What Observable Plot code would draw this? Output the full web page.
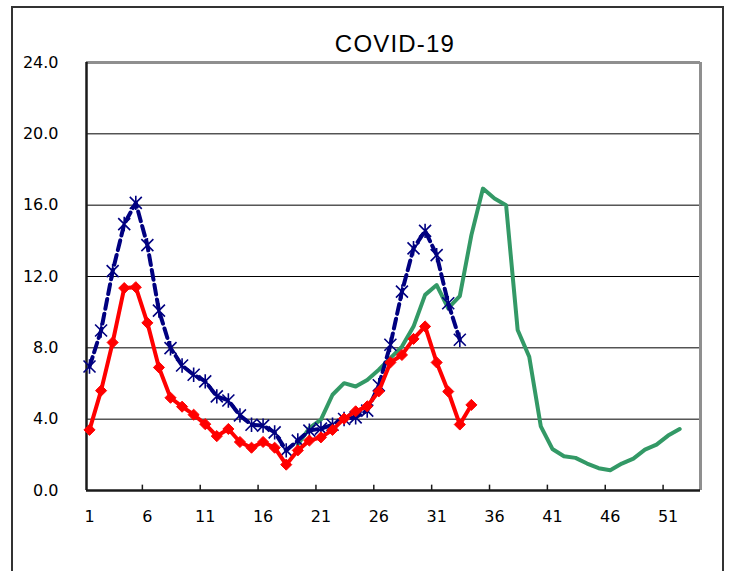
<!DOCTYPE html>
<html><head><meta charset="utf-8">
<script src="https://cdn.jsdelivr.net/npm/d3@7"></script>
<script src="https://cdn.jsdelivr.net/npm/@observablehq/plot@0.6"></script>
<style>
body{margin:0;overflow:hidden;background:#fff}
#wrap{position:relative;width:733px;height:571px;overflow:hidden}
#frame{position:absolute;left:11px;top:6px;width:713px;height:640px;border:2px solid #333;box-sizing:border-box}
#title{position:absolute;left:395px;top:32px;transform:translateX(-50%);font:24px "Liberation Sans",Arial,sans-serif;line-height:1;letter-spacing:1.2px;color:#000;white-space:nowrap}
#chart{position:absolute;left:0;top:0}
</style></head>
<body>
<div id="wrap"><div id="frame"></div><div id="title">COVID-19</div><div id="chart"></div></div>
<script>
const titleText = "COVID-19";
const xTicks = [1,6,11,16,21,26,31,36,41,46,51];
const yTicks = [0,4,8,12,16,20,24];
const gridVals = [4,8,12,16,20];
// red series: weeks 1..34
const redStart = 1;
const redValues = [3.4,5.6,8.3,11.35,11.4,9.4,6.9,5.2,4.7,4.25,3.72,3.05,3.45,2.72,2.4,2.72,2.4,1.45,2.25,2.8,2.98,3.4,4.03,4.44,4.72,5.56,7.18,7.6,8.5,9.2,7.18,5.55,3.7,4.8];
// blue dashed series: weeks 1..33
const blueStart = 1;
const blueValues = [6.95,8.97,12.3,14.94,16.13,13.76,10.09,7.98,7.01,6.49,6.12,5.28,5.05,4.21,3.69,3.64,3.26,2.25,2.8,3.36,3.47,3.69,4.01,4.1,4.48,5.9,8.17,11.15,13.58,14.56,13.2,10.5,8.45];
// green series: weeks 19..52
const greenStart = 19;
const greenValues = [2.57,3.5,3.97,5.37,6.02,5.83,6.2,6.77,7.42,8.07,9.19,10.97,11.52,10.22,10.9,14.32,16.93,16.37,16.0,9.0,7.5,3.6,2.33,1.92,1.83,1.51,1.25,1.14,1.51,1.79,2.29,2.57,3.08,3.45];

const toRows = (start, vals) => vals.map((v,i)=>({week:start+i, value:v}));
const red = toRows(redStart, redValues);
const blue = toRows(blueStart, blueValues);
const green = toRows(greenStart, greenValues);

const star = {
  draw(ctx, size){
    const r = Math.sqrt(size/Math.PI);
    ctx.moveTo(-r,-r); ctx.lineTo(r,r);
    ctx.moveTo(r,-r); ctx.lineTo(-r,r);
    ctx.moveTo(0,-r*1.2); ctx.lineTo(0,r*1.2);
  }
};

document.getElementById("title").textContent = titleText;

const xMin = 0.74, xMax = 53.8;
const chart = Plot.plot({
  width:733, height:571,
  marginLeft:86, marginRight:33, marginTop:62, marginBottom:81,
  x:{domain:[xMin,xMax], axis:null, label:null},
  y:{domain:[0,24], axis:null, label:null},
  style:{background:"transparent", fontFamily:"'DejaVu Sans', sans-serif", color:"#000"},
  marks:[
    Plot.ruleY(gridVals, {stroke:"#000", strokeWidth:1}),
    Plot.ruleY([24], {stroke:"#8f8f8f", strokeWidth:3}),
    Plot.ruleX([xMax], {stroke:"#8f8f8f", strokeWidth:3}),
    Plot.ruleX([xMin], {stroke:"#1a1a1a", strokeWidth:2.5}),
    Plot.ruleY([0], {stroke:"#1a1a1a", strokeWidth:2.5}),
    Plot.ruleX(xTicks.slice(1), {x:d=>d, y1:0, y2:0.3, dx:-5, stroke:"#1a1a1a", strokeWidth:1.5}),
    Plot.axisY({ticks:yTicks, tickFormat:d=>d.toFixed(1), tickSize:0, tickPadding:28, fontSize:16, label:null}),
    Plot.axisX({ticks:xTicks, tickFormat:d=>String(d), tickSize:0, tickPadding:20, fontSize:16, label:null}),
    Plot.line(green, {x:"week", y:"value", stroke:"#339966", strokeWidth:4}),
    Plot.line(blue, {x:"week", y:"value", stroke:"#000080", strokeWidth:4, strokeDasharray:"10,5"}),
    Plot.dot(blue, {x:"week", y:"value", symbol:star, r:6, fill:"none", stroke:"#000080", strokeWidth:1.6}),
    Plot.line(red, {x:"week", y:"value", stroke:"#ff0000", strokeWidth:4}),
    Plot.dot(red, {x:"week", y:"value", symbol:"diamond2", r:5, fill:"#ff0000", stroke:"#ff0000", strokeWidth:1})
  ]
});
document.getElementById("chart").appendChild(chart);
</script>
</body></html>
